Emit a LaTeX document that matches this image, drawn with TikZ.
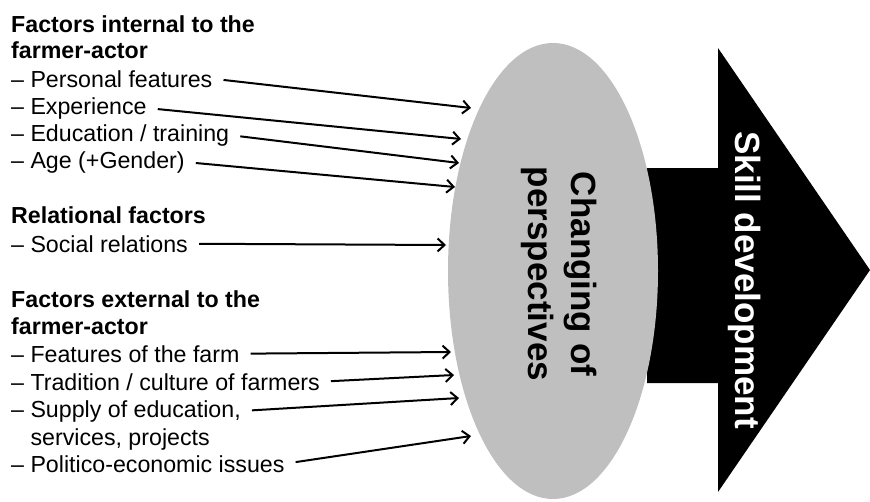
\documentclass[tikz,border=0pt]{standalone}
\usepackage{fontspec}
\setmainfont{Liberation Sans}
\usetikzlibrary{arrows.meta,shapes.geometric}

\tikzset{
  factor/.style={anchor=base west, inner sep=0pt, font=\fontsize{23.2}{27}\selectfont},
  heading/.style={factor, font=\fontsize{23.2}{27}\selectfont\bfseries},
  influence/.style={line width=2pt, shorten <=11pt, -{Straight Barb[length=7pt,width=13pt]}},
  lens/.style={ellipse, fill=black!25, inner sep=0pt},
  bigtext/.style={rotate=-90, font=\fontsize{35}{43}\selectfont\bfseries, align=center},
}

\begin{document}
\begin{tikzpicture}[x=1pt,y=-1pt]
\useasboundingbox (0,0) rectangle (870,501);

% big arrow
\fill (647,168) -- (718,168) -- (718,48) -- (870,270) -- (718,492) -- (718,383) -- (647,383) -- cycle;
\node[bigtext, text=white] (skill) at (745,280) {Skill development};

% ellipse
\node[lens, minimum width=210pt, minimum height=456pt] (persp) at (553,271) {};
\node[bigtext] (persptext) at (559,274) {Changing of\\perspectives};

% internal factors
\node[heading] (inthead1) at (11,32) {Factors internal to the};
\node[heading] (inthead2) at (11,58) {farmer-actor};
\node[factor] (pers) at (11,87) {– Personal features};
\node[factor] (exper) at (11,114) {– Experience};
\node[factor] (educ) at (11,141) {– Education / training};
\node[factor] (age) at (11,168) {– Age (+Gender)};

% relational factors
\node[heading] (relhead) at (11,223) {Relational factors};
\node[factor] (social) at (11,252) {– Social relations};

% external factors
\node[heading] (exthead1) at (11,307) {Factors external to the};
\node[heading] (exthead2) at (11,334) {farmer-actor};
\node[factor] (farm) at (11,362) {– Features of the farm};
\node[factor] (trad) at (11,390) {– Tradition / culture of farmers};
\node[factor] (supply) at (11,417) {– Supply of education,};
\node[factor] (serv) at (11,445) {\phantom{– }services, projects};
\node[factor] (polit) at (11,472) {– Politico-economic issues};

% arrow ends
\coordinate (e1) at (471,108);
\coordinate (e2) at (461,139);
\coordinate (e3) at (459,163);
\coordinate (e4) at (455,187);
\coordinate (e5) at (446,245);
\coordinate (e6) at (451,352);
\coordinate (e7) at (454,375);
\coordinate (e8) at (459,398);
\coordinate (e9) at (471,436);

\draw[influence] (pers.east) -- (e1);
\draw[influence] (exper.east) -- (e2);
\draw[influence] (educ.east) -- (e3);
\draw[influence] (age.east) -- (e4);
\draw[influence] (social.east) -- (e5);
\draw[influence] (farm.east) -- (e6);
\draw[influence] (trad.east) -- (e7);
\draw[influence] (supply.east) -- (e8);
\draw[influence] (polit.east) -- (e9);
\end{tikzpicture}
\end{document}
